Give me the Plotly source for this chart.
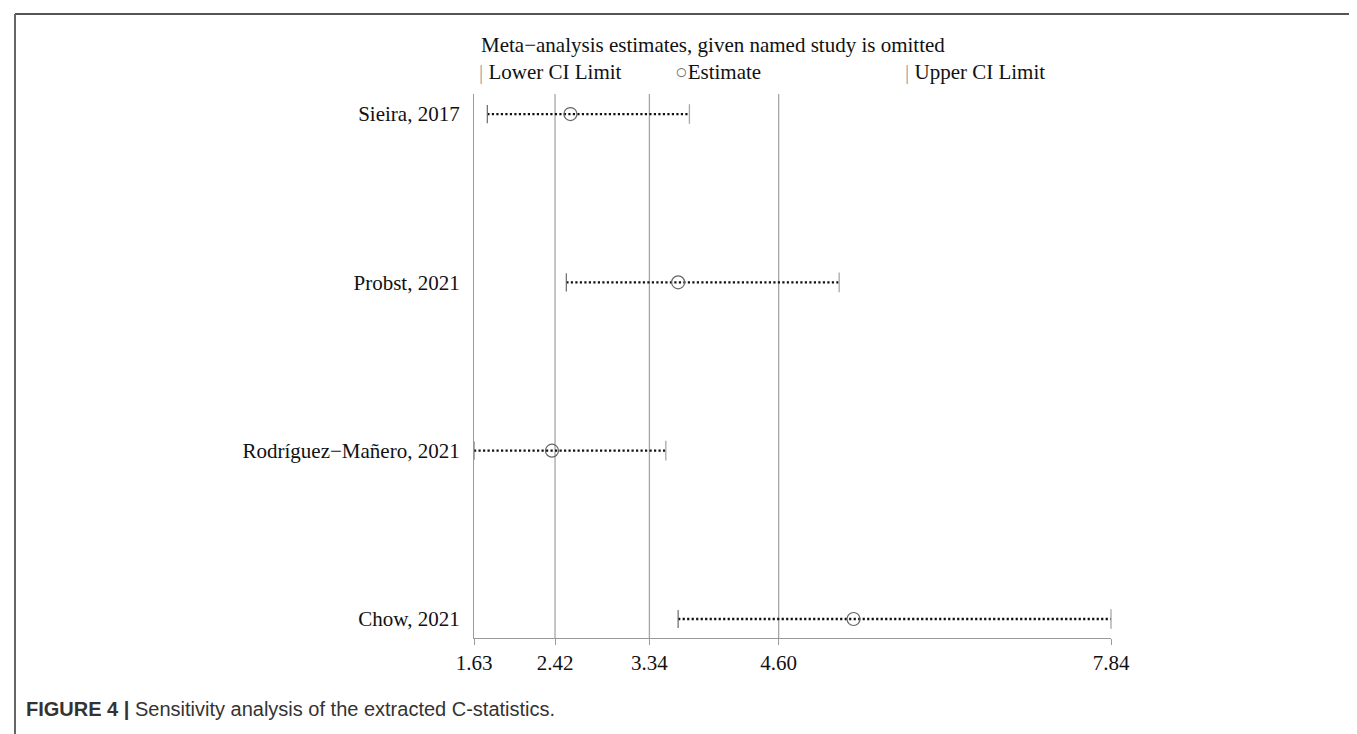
import plotly.graph_objects as go

# ---- data ----
studies = ["Sieira, 2017", "Probst, 2021", "Rodríguez\u2212Mañero, 2021", "Chow, 2021"]
lower_ci = [1.76, 2.53, 1.63, 3.62]
estimate = [2.57, 3.62, 2.39, 5.33]
upper_ci = [3.73, 5.19, 3.50, 7.84]
x_ticks = [1.63, 2.42, 3.34, 4.60, 7.84]
x_tick_labels = ["1.63", "2.42", "3.34", "4.60", "7.84"]
grid_values = [2.42, 3.34, 4.60]

W, H = 1357, 734
ML, MR, MT, MB = 466, 254, 86, 104
PW, PH = W - ML - MR, H - MT - MB


def px(x):
    return (x - ML) / PW


def py(y):
    return (H - MB - y) / PH


SERIF = "Liberation Serif, Times New Roman, serif"
rows = list(range(1, len(studies) + 1))

fig = go.Figure()

# dotted CI lines
for r, lo, hi in zip(rows, lower_ci, upper_ci):
    fig.add_trace(go.Scatter(
        x=[lo, hi], y=[r, r], mode="lines",
        line=dict(color="#111111", width=2.3, dash="2.2px,2.3px"),
        showlegend=False, hoverinfo="skip", cliponaxis=False))

fig.add_trace(go.Scatter(
    x=lower_ci, y=rows, mode="markers", name="Lower CI Limit",
    marker=dict(symbol="line-ns", size=13, line=dict(color="#6a6a6a", width=1.2)),
    showlegend=False, cliponaxis=False))
fig.add_trace(go.Scatter(
    x=upper_ci, y=rows, mode="markers", name="Upper CI Limit",
    marker=dict(symbol="line-ns", size=14, line=dict(color="#a8a8a8", width=1.3)),
    showlegend=False, cliponaxis=False))
fig.add_trace(go.Scatter(
    x=estimate, y=rows, mode="markers", name="Estimate",
    marker=dict(symbol="circle-open", size=13, color="#666666", line=dict(color="#666666", width=1.2)),
    showlegend=False, cliponaxis=False))

shapes = []
for g in grid_values:
    shapes.append(dict(type="line", xref="x", yref="paper", x0=g, x1=g, y0=0, y1=1,
                       line=dict(color="#a6a6a6", width=1.3), layer="below"))
# figure frame
shapes.append(dict(type="line", xref="paper", yref="paper", x0=px(7), x1=px(1355.5),
                   y0=py(6), y1=py(6), line=dict(color="#555555", width=2)))
shapes.append(dict(type="line", xref="paper", yref="paper", x0=px(7), x1=px(7),
                   y0=py(6), y1=py(740), line=dict(color="#666666", width=2)))
shapes.append(dict(type="line", xref="paper", yref="paper", x0=px(1355.5), x1=px(1355.5),
                   y0=py(6), y1=py(740), line=dict(color="#666666", width=2)))

annotations = [
    dict(text="Meta\u2212analysis estimates, given named study is omitted",
         x=px(471), y=py(37), xref="paper", yref="paper", xanchor="left", yanchor="middle",
         showarrow=False, font=dict(family=SERIF, size=21, color="#111111")),
    dict(text="<span style='color:#999999'>|</span> Lower CI Limit",
         x=px(469), y=py(64.5), xref="paper", yref="paper", xanchor="left", yanchor="middle",
         showarrow=False, font=dict(family=SERIF, size=21, color="#111111")),
    dict(text="<span style='color:#777777'>\u25cb</span>Estimate",
         x=px(665), y=py(64.5), xref="paper", yref="paper", xanchor="left", yanchor="middle",
         showarrow=False, font=dict(family=SERIF, size=21, color="#111111")),
    dict(text="<span style='color:#999999'>|</span> Upper CI Limit",
         x=px(895), y=py(64.5), xref="paper", yref="paper", xanchor="left", yanchor="middle",
         showarrow=False, font=dict(family=SERIF, size=21, color="#111111")),
    dict(text="<b>FIGURE 4 |</b> Sensitivity analysis of the extracted C-statistics.",
         x=px(16), y=py(701), xref="paper", yref="paper", xanchor="left", yanchor="middle",
         showarrow=False, font=dict(family="Liberation Sans, Arial, sans-serif", size=20, color="#333333")),
]

fig.update_layout(
    width=W, height=H,
    margin=dict(l=ML, r=MR, t=MT, b=MB, pad=0),
    paper_bgcolor="white", plot_bgcolor="white",
    shapes=shapes, annotations=annotations,
    xaxis=dict(range=[1.63, 7.84], tickvals=x_ticks, ticktext=x_tick_labels,
               showgrid=False, zeroline=False, showline=True, linecolor="#9a9a9a", linewidth=1.3,
               ticks="outside", ticklen=6, tickcolor="#9a9a9a", tickwidth=1.3,
               tickfont=dict(family=SERIF, size=21, color="#111111")),
    yaxis=dict(range=[4.113, 0.881], tickvals=rows, ticktext=studies,
               showgrid=False, zeroline=False, showline=True, linecolor="#9a9a9a", linewidth=1.3,
               ticks="", ticklabelstandoff=9,
               tickfont=dict(family=SERIF, size=21, color="#111111")),
)

fig.write_html("out.html")
